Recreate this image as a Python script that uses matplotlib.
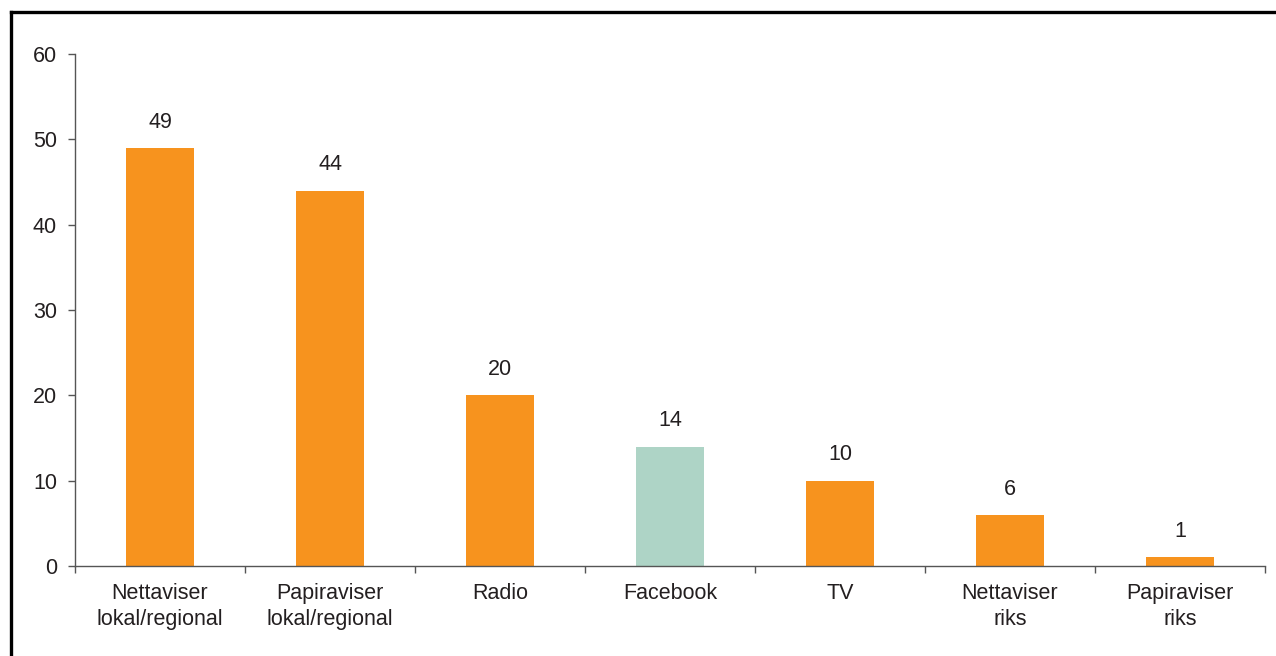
import matplotlib
matplotlib.use("Agg")
import matplotlib.pyplot as plt
from matplotlib.lines import Line2D

categories = ["Nettaviser\nlokal/regional", "Papiraviser\nlokal/regional", "Radio",
              "Facebook", "TV", "Nettaviser\nriks", "Papiraviser\nriks"]
values = [49, 44, 20, 14, 10, 6, 1]
colors = ["#F7931E", "#F7931E", "#F7931E", "#AED4C6", "#F7931E", "#F7931E", "#F7931E"]

text_color = "#231F20"
axis_color = "#555555"
fs = 15.5

plt.rcParams["font.family"] = ["Liberation Sans", "DejaVu Sans"]

fig = plt.figure(figsize=(12.76, 6.56), dpi=100)
ax = fig.add_axes([0.0588, 0.1372, 0.9326, 0.7805])

x = range(len(categories))
bars = ax.bar(x, values, width=0.4, color=colors)

for xi, v in zip(x, values):
    ax.annotate(str(v), (xi, v), xytext=(0, 11), textcoords="offset points",
                ha="center", va="bottom", fontsize=fs, color=text_color)

ax.set_xlim(-0.5, len(categories) - 0.5)
ax.set_ylim(0, 60)
ax.set_yticks(range(0, 61, 10))

# category labels in the middle, tick marks on the boundaries
ax.set_xticks(list(x))
ax.set_xticklabels(categories, fontsize=fs, color=text_color, linespacing=1.32)
ax.tick_params(axis="x", which="major", length=0, pad=12)
ax.set_xticks([i - 0.5 for i in range(len(categories) + 1)], minor=True)
ax.tick_params(axis="x", which="minor", length=5, width=1, color=axis_color,
               direction="out")
ax.tick_params(axis="y", length=5, width=1, color=axis_color, pad=8,
               labelsize=fs, labelcolor=text_color)

for side in ["top", "right"]:
    ax.spines[side].set_visible(False)
for side in ["left", "bottom"]:
    ax.spines[side].set_color(axis_color)
    ax.spines[side].set_linewidth(1)

# frame around the figure (top and left edges)
fig.add_artist(Line2D([0.0086, 1.0], [0.9817, 0.9817], color="black", lw=2.4,
                      transform=fig.transFigure))
fig.add_artist(Line2D([0.0086, 0.0086], [0.0, 0.9817], color="black", lw=2.4,
                      transform=fig.transFigure))

fig.savefig("out.png", dpi=100)
